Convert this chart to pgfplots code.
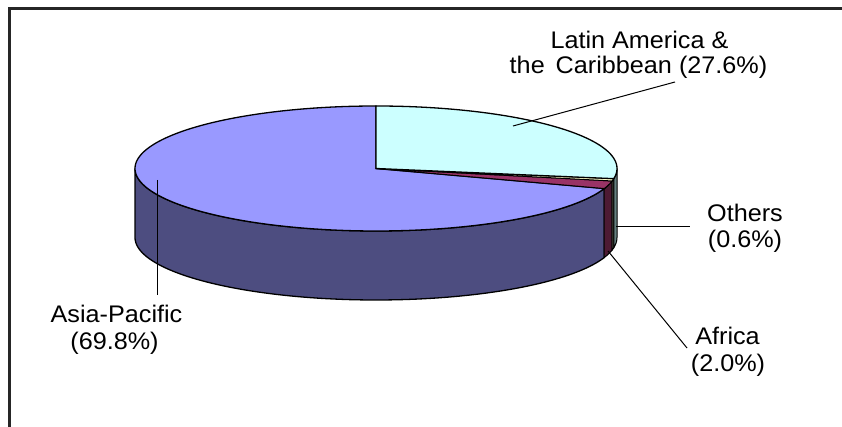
\documentclass[border=0pt]{standalone}
\usepackage{pgfplots}
\pgfplotsset{compat=1.18}
\usepgfplotslibrary{fillbetween}
\usepackage{fontspec}
\setmainfont{Liberation Sans}
\newfontfamily\lab{Liberation Sans}[FakeStretch=1.05]
\definecolor{asiaTop}{RGB}{153,153,255}
\definecolor{asiaSide}{RGB}{77,77,128}
\definecolor{latTop}{RGB}{204,255,255}
\definecolor{latSide}{RGB}{102,128,128}
\definecolor{afrTop}{RGB}{153,51,102}
\definecolor{afrSide}{RGB}{77,26,51}
\definecolor{othTop}{RGB}{255,255,204}
\definecolor{othSide}{RGB}{128,128,102}
% shares (percent)
\def\pLat{27.6}
\def\pOth{0.6}
\def\pAfr{2.0}
\def\pAsia{69.8}
% geometry (picture pixels)
\def\cx{376}
\def\cy{168.5}
\def\ra{241}
\def\rb{62.5}
\def\hh{69}
\pgfmathsetmacro\aA{90}
\pgfmathsetmacro\aB{\aA-3.6*\pLat}
\pgfmathsetmacro\aC{\aB-3.6*\pOth}
\pgfmathsetmacro\aD{\aC-3.6*\pAfr}
\pgfmathsetmacro\aE{\aD-3.6*\pAsia}
\begin{document}
\begin{tikzpicture}
\begin{axis}[name=ax,
  scale only axis, width=842pt, height=427pt,
  xmin=0, xmax=842, ymin=0, ymax=427, y dir=reverse,
  hide axis, clip=false,
  every axis plot/.append style={forget plot},
]
% frame (top and left edges)
\addplot[draw=black!85, line width=2.6pt] coordinates {(9.5,430) (9.5,8.8) (845,8.8)};

% ---- side faces ----
% Asia-Pacific side (visible part: -180 .. aD)
\addplot[draw=none, name path=at, domain=-180:\aD, samples=90] ({\cx+\ra*cos(x)},{\cy-\rb*sin(x)});
\addplot[draw=none, name path=ab, domain=-180:\aD, samples=90] ({\cx+\ra*cos(x)},{\cy+\hh-\rb*sin(x)});
\addplot[fill=asiaSide, draw=black, line width=1.3pt] fill between[of=at and ab];
% Africa side
\addplot[draw=none, name path=ft, domain=\aD:\aC, samples=10] ({\cx+\ra*cos(x)},{\cy-\rb*sin(x)});
\addplot[draw=none, name path=fb, domain=\aD:\aC, samples=10] ({\cx+\ra*cos(x)},{\cy+\hh-\rb*sin(x)});
\addplot[fill=afrSide, draw=black, line width=1pt] fill between[of=ft and fb];
% Others side
\addplot[draw=none, name path=ot, domain=\aC:\aB, samples=5] ({\cx+\ra*cos(x)},{\cy-\rb*sin(x)});
\addplot[draw=none, name path=ob, domain=\aC:\aB, samples=5] ({\cx+\ra*cos(x)},{\cy+\hh-\rb*sin(x)});
\addplot[fill=othSide, draw=black, line width=1pt] fill between[of=ot and ob];
% Latin America side (visible part: aB .. 0)
\addplot[draw=none, name path=lt, domain=\aB:0, samples=10] ({\cx+\ra*cos(x)},{\cy-\rb*sin(x)});
\addplot[draw=none, name path=lb, domain=\aB:0, samples=10] ({\cx+\ra*cos(x)},{\cy+\hh-\rb*sin(x)});
\addplot[fill=latSide, draw=black, line width=1pt] fill between[of=lt and lb];

% ---- top faces ----
\addplot[fill=asiaTop, draw=black, line width=1.3pt, domain=\aE:\aD, samples=200]
  ({\cx+\ra*cos(x)},{\cy-\rb*sin(x)}) -- (axis cs:\cx,\cy) -- cycle;
\addplot[fill=afrTop, draw=black, line width=1pt, domain=\aD:\aC, samples=10]
  ({\cx+\ra*cos(x)},{\cy-\rb*sin(x)}) -- (axis cs:\cx,\cy) -- cycle;
\addplot[fill=othTop, draw=black, line width=1pt, domain=\aC:\aB, samples=5]
  ({\cx+\ra*cos(x)},{\cy-\rb*sin(x)}) -- (axis cs:\cx,\cy) -- cycle;
\addplot[fill=latTop, draw=black, line width=1.3pt, domain=\aB:\aA, samples=80]
  ({\cx+\ra*cos(x)},{\cy-\rb*sin(x)}) -- (axis cs:\cx,\cy) -- cycle;

% ---- leader lines ----
\addplot[black, line width=1pt] coordinates {(513,126) (675,82)};
\addplot[black, line width=1pt] coordinates {(616,227) (690,227)};
\addplot[black, line width=1pt] coordinates {(608,251) (687,348)};
\addplot[black, line width=1pt] coordinates {(157,180) (157,295)};

% ---- labels ----
\begin{scope}[every node/.style={anchor=base, inner sep=0pt, font=\lab\fontsize{24}{24}\selectfont}]
\node at (axis cs:639.5,49) {Latin America \&};
\node at (axis cs:638.5,74) {the\, Caribbean (27.6\%)};
\node at (axis cs:745,222) {Others};
\node at (axis cs:745,248) {(0.6\%)};
\node at (axis cs:727.5,345) {Africa};
\node at (axis cs:728,372) {(2.0\%)};
\node at (axis cs:116.5,323) {Asia-Pacific};
\node at (axis cs:114.5,350) {(69.8\%)};
\end{scope}
\end{axis}
\pgfresetboundingbox
\path[use as bounding box] (ax.south west) rectangle (ax.north east);
\end{tikzpicture}
\end{document}
